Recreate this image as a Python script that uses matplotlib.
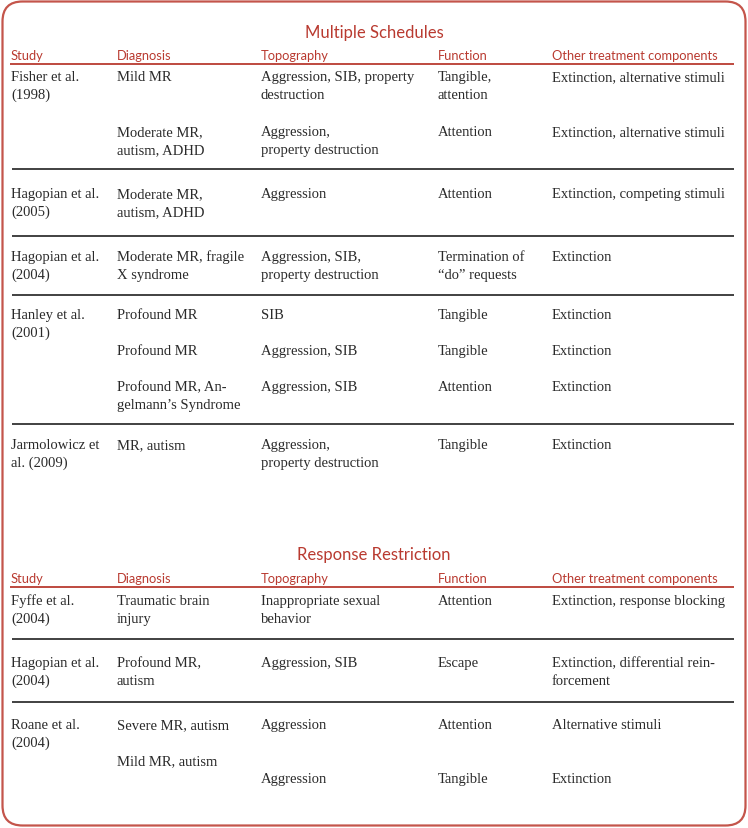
import matplotlib
matplotlib.use("Agg")
import matplotlib.pyplot as plt
from matplotlib.patches import FancyBboxPatch

# ---------------- data ----------------
headers = ["Study", "Diagnosis", "Topography", "Function", "Other treatment components"]

sec1_title = "Multiple Schedules"
sec1_studies = ["Fisher et al.\n(1998)", "Hagopian et al.\n(2005)", "Hagopian et al.\n(2004)",
                "Hanley et al.\n(2001)", "Jarmolowicz et\nal. (2009)"]
sec1_rows = [
    [["Mild MR", "Aggression, SIB, property\ndestruction", "Tangible,\nattention", "Extinction, alternative stimuli"],
     ["Moderate MR,\nautism, ADHD", "Aggression,\nproperty destruction", "Attention", "Extinction, alternative stimuli"]],
    [["Moderate MR,\nautism, ADHD", "Aggression", "Attention", "Extinction, competing stimuli"]],
    [["Moderate MR, fragile\nX syndrome", "Aggression, SIB,\nproperty destruction", "Termination of\n\u201cdo\u201d requests", "Extinction"]],
    [["Profound MR", "SIB", "Tangible", "Extinction"],
     ["Profound MR", "Aggression, SIB", "Tangible", "Extinction"],
     ["Profound MR, An-\ngelmann\u2019s Syndrome", "Aggression, SIB", "Attention", "Extinction"]],
    [["MR, autism", "Aggression,\nproperty destruction", "Tangible", "Extinction"]],
]

sec2_title = "Response Restriction"
sec2_studies = ["Fyffe et al.\n(2004)", "Hagopian et al.\n(2004)", "Roane et al.\n(2004)"]
sec2_rows = [
    [["Traumatic brain\ninjury", "Inappropriate sexual\nbehavior", "Attention", "Extinction, response blocking"]],
    [["Profound MR,\nautism", "Aggression, SIB", "Escape", "Extinction, differential rein-\nforcement"]],
    [["Severe MR, autism", "Aggression", "Attention", "Alternative stimuli"],
     ["Mild MR, autism", "\nAggression", "\nTangible", "\nExtinction"]],
]

# ---------------- layout ----------------
W, H = 748, 829
col_x = [11, 117, 261, 438, 552]
line_h = 18
RED = "#b93a30"
BORDER = "#c4554b"
TXT = "#2a2a2a"
SERIF = ["Liberation Serif", "DejaVu Serif"]
SANS = ["Lato", "DejaVu Sans"]
body_fs = 10.5
head_fs = 9.3
title_fs = 12.0

sec1_layout = dict(title_y=38, head_y=60, redline_y=64.5,
                   sub_tops=[[81, 136], [198], [261], [319, 355, 391], [449]],
                   seps=[170, 237, 296, 425])
sec2_layout = dict(title_y=560, head_y=583, redline_y=587.5,
                   sub_tops=[[605], [667], [729, 765]],
                   seps=[640, 703])

fig = plt.figure(figsize=(W / 100, H / 100), dpi=100)
ax = fig.add_axes([0, 0, 1, 1])
ax.set_xlim(0, W)
ax.set_ylim(H, 0)
ax.axis("off")

ax.add_patch(FancyBboxPatch((2.5, 2.5), W - 5, H - 5,
                            boxstyle="round,pad=0,rounding_size=20",
                            fc="white", ec=BORDER, lw=1.6))


def put(x, y, s, **kw):
    for i, ln in enumerate(s.split("\n")):
        if ln:
            ax.text(x, y + i * line_h, ln, va="baseline", ha="left", **kw)


def section(title, studies, rows, lay):
    ax.text(W / 2, lay["title_y"], title, ha="center", va="baseline",
            fontsize=title_fs, color=RED, family=SANS)
    for x, h in zip(col_x, headers):
        ax.text(x, lay["head_y"], h, ha="left", va="baseline",
                fontsize=head_fs, color=RED, family=SANS)
    ax.plot([10, 734], [lay["redline_y"]] * 2, color=RED, lw=1.3, solid_capstyle="butt")
    for study, subs, tops in zip(studies, rows, lay["sub_tops"]):
        put(col_x[0], tops[0], study, fontsize=body_fs, color=TXT, family=SERIF)
        for cells, y in zip(subs, tops):
            for x, c in zip(col_x[1:], cells):
                put(x, y, c, fontsize=body_fs, color=TXT, family=SERIF)
    for y in lay["seps"]:
        ax.plot([12, 734], [y, y], color="#333333", lw=1.3, solid_capstyle="butt")


section(sec1_title, sec1_studies, sec1_rows, sec1_layout)
section(sec2_title, sec2_studies, sec2_rows, sec2_layout)

fig.savefig("out.png", dpi=100)
